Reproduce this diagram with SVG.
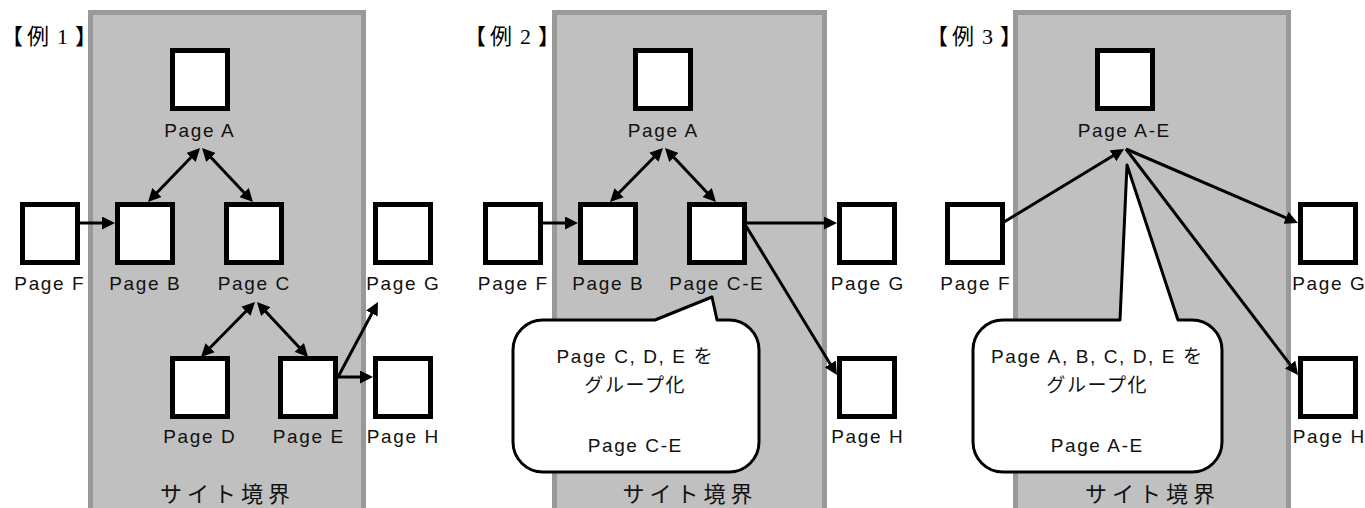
<svg xmlns="http://www.w3.org/2000/svg" width="1365" height="508" viewBox="0 0 1365 508">
<defs>
<style>
.site{fill:#c0c0c0;stroke:#999;stroke-width:5}
.box{fill:#fff;stroke:#000;stroke-width:5}
.lbl{font-family:"Liberation Sans","Noto Sans CJK JP",sans-serif;font-size:19px;letter-spacing:1.6px;fill:#111;text-anchor:middle}
.ttl{font-family:"Liberation Serif","Noto Sans CJK JP",serif;font-size:22px;fill:#000}
.zone{font-family:"Noto Sans CJK JP",sans-serif;font-size:22px;letter-spacing:5px;fill:#111;text-anchor:middle}
.con{stroke:#000;stroke-width:3;fill:none}
.one{marker-end:url(#ah)}
.two{marker-start:url(#ah);marker-end:url(#ah)}
.bubble{fill:#fff;stroke:#000;stroke-width:3;stroke-linejoin:round}
</style>
<marker id="ah" viewBox="0 0 13 13" refX="5" refY="6.5" markerWidth="13" markerHeight="13" markerUnits="userSpaceOnUse" orient="auto-start-reverse">
<path d="M0,0 L13,6.5 L0,13 z" fill="#000"/>
</marker>
</defs>

<!-- site boundaries -->
<g id="site1"><rect class="site" x="90.5" y="12.5" width="273" height="510"/><text class="zone" x="227.5" y="502">サイト境界</text></g>
<g id="site2"><rect class="site" x="554.5" y="12.5" width="270" height="510"/><text class="zone" x="690" y="502">サイト境界</text></g>
<g id="site3"><rect class="site" x="1015.5" y="12.5" width="273" height="510"/><text class="zone" x="1152.5" y="502">サイト境界</text></g>

<g id="title1"><text class="ttl" x="1 27 49 57 75" y="44">【例 1】</text></g>
<g id="title2"><text class="ttl" x="464 490 512 520 538" y="44">【例 2】</text></g>
<g id="title3"><text class="ttl" x="926 952 974 982 1000" y="44">【例 3】</text></g>

<!-- Example 1 nodes -->
<g id="ex1-A"><rect class="box" x="172.5" y="50.5" width="55" height="58"/><text class="lbl" x="199.8" y="136.5">Page A</text></g>
<g id="ex1-F"><rect class="box" x="22.5" y="204.5" width="55" height="58"/><text class="lbl" x="49.8" y="290">Page F</text></g>
<g id="ex1-B"><rect class="box" x="117.5" y="204.5" width="55" height="58"/><text class="lbl" x="145.3" y="290">Page B</text></g>
<g id="ex1-C"><rect class="box" x="226.5" y="204.5" width="55" height="58"/><text class="lbl" x="254.3" y="290">Page C</text></g>
<g id="ex1-G"><rect class="box" x="375.5" y="204.5" width="55" height="58"/><text class="lbl" x="403.3" y="290">Page G</text></g>
<g id="ex1-D"><rect class="box" x="172.5" y="358.5" width="55" height="58"/><text class="lbl" x="199.8" y="443">Page D</text></g>
<g id="ex1-E"><rect class="box" x="280.5" y="358.5" width="55" height="58"/><text class="lbl" x="308.8" y="443">Page E</text></g>
<g id="ex1-H"><rect class="box" x="375.5" y="358.5" width="55" height="58"/><text class="lbl" x="403.3" y="443">Page H</text></g>

<!-- Example 2 nodes -->
<g id="ex2-A"><rect class="box" x="635.5" y="50.5" width="55" height="58"/><text class="lbl" x="663.3" y="136.5">Page A</text></g>
<g id="ex2-F"><rect class="box" x="485.5" y="204.5" width="55" height="58"/><text class="lbl" x="513.3" y="290">Page F</text></g>
<g id="ex2-B"><rect class="box" x="580.5" y="204.5" width="55" height="58"/><text class="lbl" x="608.3" y="290">Page B</text></g>
<g id="ex2-CE"><rect class="box" x="689.5" y="204.5" width="55" height="58"/><text class="lbl" x="716.8" y="290">Page C-E</text></g>
<g id="ex2-G"><rect class="box" x="839.5" y="204.5" width="55" height="58"/><text class="lbl" x="867.8" y="290">Page G</text></g>
<g id="ex2-H"><rect class="box" x="839.5" y="358.5" width="55" height="58"/><text class="lbl" x="867.8" y="443">Page H</text></g>

<!-- Example 3 nodes -->
<g id="ex3-AE"><rect class="box" x="1097.5" y="50.5" width="55" height="58"/><text class="lbl" x="1124.3" y="136.5">Page A-E</text></g>
<g id="ex3-F"><rect class="box" x="947.5" y="204.5" width="55" height="58"/><text class="lbl" x="975.8" y="290">Page F</text></g>
<g id="ex3-G"><rect class="box" x="1300.5" y="204.5" width="55" height="58"/><text class="lbl" x="1329.3" y="290">Page G</text></g>
<g id="ex3-H"><rect class="box" x="1300.5" y="358.5" width="55" height="58"/><text class="lbl" x="1329.3" y="443">Page H</text></g>

<!-- connectors -->
<g id="connectors">
<line class="con two" x1="194.5" y1="153.8" x2="153.5" y2="196.2"/>
<line class="con two" x1="207.5" y1="153.8" x2="247.5" y2="196.2"/>
<line class="con one" x1="80" y1="223" x2="107" y2="223"/>
<line class="con two" x1="249.4" y1="307.7" x2="206.6" y2="351.3"/>
<line class="con two" x1="262.4" y1="307.9" x2="302.6" y2="351.1"/>
<line class="con one" x1="338" y1="377" x2="374.2" y2="309.1"/>
<line class="con one" x1="338" y1="377" x2="365" y2="377"/>

<line class="con two" x1="657.4" y1="153.7" x2="615.6" y2="196.3"/>
<line class="con two" x1="670.5" y1="153.8" x2="710.5" y2="196.2"/>
<line class="con one" x1="543" y1="223" x2="570" y2="223"/>
<line class="con one" x1="747" y1="223" x2="829" y2="223"/>
<line class="con one" x1="746" y1="226" x2="832.8" y2="368.2"/>

<line class="con one" x1="1004" y1="222" x2="1117.2" y2="153.2"/>
<line class="con one" x1="1126" y1="149" x2="1290.6" y2="219.8"/>
<line class="con one" x1="1126" y1="149" x2="1293.2" y2="368.6"/>
</g>

<!-- callouts -->
<g id="callout2">
<path class="bubble" d="M543,320 L655,320 L712,297 L717,320 L729,320 A30,30 0 0 1 759,350 L759,442 A30,30 0 0 1 729,472 L543,472 A30,30 0 0 1 513,442 L513,350 A30,30 0 0 1 543,320 Z"/>
<text class="lbl" x="635.3" y="363">Page C, D, E を</text>
<text class="lbl" x="635.3" y="392">グループ化</text>
<text class="lbl" x="635.3" y="452">Page C-E</text>
</g>
<g id="callout3">
<path class="bubble" d="M1003,320 L1120,320 L1127,165 L1178,320 L1192,320 A30,30 0 0 1 1222,350 L1222,442 A30,30 0 0 1 1192,472 L1003,472 A30,30 0 0 1 973,442 L973,350 A30,30 0 0 1 1003,320 Z"/>
<text class="lbl" x="1097.3" y="363">Page A, B, C, D, E を</text>
<text class="lbl" x="1097.3" y="392">グループ化</text>
<text class="lbl" x="1097.3" y="452">Page A-E</text>
</g>
</svg>
